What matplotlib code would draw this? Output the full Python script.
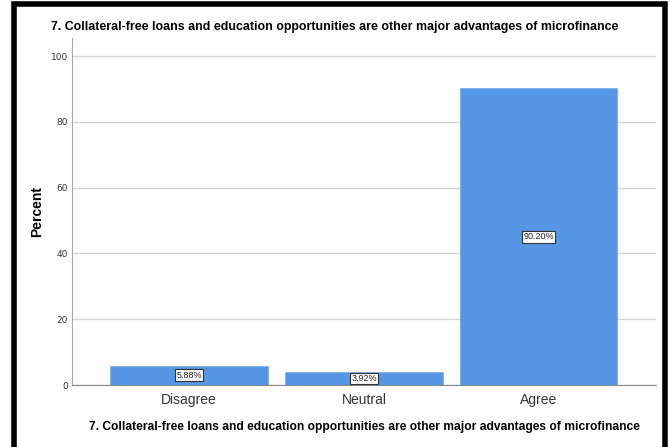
import matplotlib
matplotlib.use("Agg")
import matplotlib.pyplot as plt
from matplotlib.patches import Rectangle

categories = ["Disagree", "Neutral", "Agree"]
percent = [5.88, 3.92, 90.20]
yticks = [0, 20, 40, 60, 80, 100]
title = "7. Collateral-free loans and education opportunities are other major advantages of microfinance"

sans = ["Liberation Sans", "DejaVu Sans"]
bar_color = "#5596e5"

fig = plt.figure(figsize=(6.7, 4.47), dpi=100)
ax = fig.add_axes([0.1075, 0.1387, 0.979 - 0.1075, 0.915 - 0.1387])

x = range(len(categories))
ax.bar(x, percent, width=0.9, color=bar_color, edgecolor="#7fb0ee", linewidth=0.6, zorder=3)

for i, v in enumerate(percent):
    ax.text(i, v / 2, "%.2f%%" % v, ha="center", va="center", fontsize=6.5,
            family=sans, color="#222222", zorder=4,
            bbox=dict(boxstyle="square,pad=0.15", fc="white", ec="#333333", lw=0.8))

ax.set_xlim(-0.67, 2.67)
ax.set_ylim(0, 105.5)
ax.set_yticks(yticks)
ax.set_xticks(list(x))
ax.set_xticklabels(categories, fontsize=10, family=sans, color="#333333")
ax.tick_params(axis="y", labelsize=6.5, labelcolor="#333333", length=0, pad=3)
ax.tick_params(axis="x", length=0, pad=6)
ax.yaxis.grid(True, color="#d4d4d4", linewidth=1, zorder=0)
ax.set_axisbelow(True)

for s in ["top", "right"]:
    ax.spines[s].set_visible(False)
ax.spines["left"].set_color("#aaaaaa")
ax.spines["bottom"].set_color("#888888")

ax.set_ylabel("Percent", fontsize=10, fontweight="bold", family=sans, labelpad=5)
ax.set_xlabel(title, fontsize=8.65, fontweight="bold", family=sans, labelpad=10)
fig.text(0.5, 0.94, title, ha="center", va="center", fontsize=8.9, fontweight="bold", family=sans)

# thick black frame around the chart
fig.patches.append(Rectangle((13.5 / 670, -0.05), (664.5 - 13.5) / 670, 1 - 4 / 447 + 0.05,
                             transform=fig.transFigure, fill=False, ec="black", lw=4))

fig.savefig("out.png", dpi=100)
